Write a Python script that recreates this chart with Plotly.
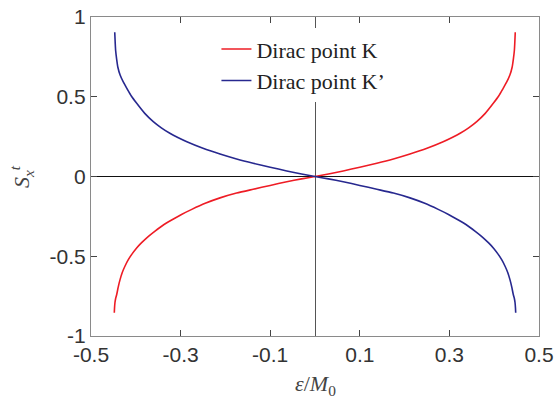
import plotly.graph_objects as go

# Red curve: Dirac point K
k_x = [-0.448, -0.4475, -0.4465, -0.445, -0.4426, -0.439, -0.435, -0.430, -0.424, -0.417,
       -0.409, -0.399, -0.387, -0.373, -0.357, -0.340, -0.320, -0.298, -0.275, -0.245,
       -0.212, -0.175, -0.138, -0.100, -0.063, -0.030, 0.0, 0.030, 0.063, 0.100,
       0.138, 0.175, 0.212, 0.250, 0.286, 0.305, 0.324, 0.343, 0.361, 0.380,
       0.398, 0.410, 0.420, 0.428, 0.435, 0.440, 0.443, 0.445, 0.446, 0.447]
k_y = [-0.854, -0.825, -0.790, -0.765, -0.740, -0.690, -0.645, -0.600, -0.561, -0.523,
       -0.488, -0.451, -0.415, -0.378, -0.342, -0.307, -0.273, -0.238, -0.206, -0.168,
       -0.134, -0.104, -0.080, -0.056, -0.033, -0.015, 0.0, 0.016, 0.035, 0.058,
       0.083, 0.110, 0.141, 0.177, 0.218, 0.243, 0.271, 0.305, 0.344, 0.396,
       0.459, 0.505, 0.553, 0.593, 0.636, 0.685, 0.741, 0.790, 0.840, 0.904]

# Blue curve: Dirac point K'
kp_x = [-0.447, -0.446, -0.445, -0.443, -0.440, -0.435, -0.428, -0.420, -0.410, -0.398,
        -0.380, -0.361, -0.343, -0.324, -0.305, -0.286, -0.250, -0.212, -0.175, -0.138,
        -0.100, -0.063, -0.030, 0.0, 0.030, 0.063, 0.100, 0.138, 0.175, 0.212,
        0.245, 0.275, 0.298, 0.320, 0.340, 0.357, 0.373, 0.387, 0.399, 0.409,
        0.417, 0.424, 0.430, 0.435, 0.439, 0.4426, 0.445, 0.4465, 0.4475, 0.448]
kp_y = [0.904, 0.840, 0.790, 0.741, 0.685, 0.636, 0.593, 0.553, 0.505, 0.459,
        0.396, 0.344, 0.305, 0.271, 0.243, 0.218, 0.177, 0.141, 0.110, 0.083,
        0.058, 0.035, 0.016, 0.0, -0.015, -0.033, -0.056, -0.080, -0.104, -0.134,
        -0.168, -0.206, -0.238, -0.273, -0.307, -0.342, -0.378, -0.415, -0.451, -0.488,
        -0.523, -0.561, -0.600, -0.645, -0.690, -0.740, -0.765, -0.790, -0.825, -0.854]

x_ticks = [-0.5, -0.3, -0.1, 0.1, 0.3, 0.5]
x_ticktext = ["-0.5", "-0.3", "-0.1", "0.1", "0.3", "0.5"]
y_ticks = [-1, -0.5, 0, 0.5, 1]
y_ticktext = ["-1", "-0.5", "0", "0.5", "1"]

fig = go.Figure()
fig.add_trace(go.Scatter(x=k_x, y=k_y, mode="lines", name="Dirac point K",
                         line=dict(color="#ee1c25", width=1.6, shape="spline", smoothing=0.6)))
fig.add_trace(go.Scatter(x=kp_x, y=kp_y, mode="lines", name="Dirac point K’",
                         line=dict(color="#27288f", width=1.6, shape="spline", smoothing=0.6)))

axis_common = dict(showline=True, linecolor="#8a8a8a", linewidth=1.3, mirror="ticks",
                   ticks="inside", ticklen=6, tickcolor="#444", tickwidth=1,
                   showgrid=False, automargin=False,
                   tickfont=dict(family="Liberation Sans, Arial", size=21, color="#333"))

fig.update_xaxes(range=[-0.5, 0.5], tickvals=x_ticks, ticktext=x_ticktext,
                 zeroline=True, zerolinecolor="#555", zerolinewidth=1.2, **axis_common)
fig.update_yaxes(range=[-1, 1], tickvals=y_ticks, ticktext=y_ticktext,
                 zeroline=True, zerolinecolor="#111", zerolinewidth=1.2, **axis_common)

fig.update_layout(
    width=556, height=400,
    margin=dict(l=91, r=17, t=17, b=64),
    plot_bgcolor="white", paper_bgcolor="white",
    legend=dict(x=0.28, y=0.965, xanchor="left", yanchor="top",
                bgcolor="white", borderwidth=0,
                font=dict(family="Liberation Serif, DejaVu Serif", size=22, color="#222"),
                itemwidth=30, tracegroupgap=0),
    annotations=[
        dict(text="<i>ε</i>/<i>M</i><sub>0</sub>", xref="paper", yref="paper",
             x=0.5, y=-0.155, xanchor="center", yanchor="middle", showarrow=False,
             font=dict(family="Liberation Serif, DejaVu Serif", size=22, color="#444")),
        dict(text="<i>S</i><sub><i>x</i></sub><sup><i>t</i></sup>", xref="paper", yref="paper",
             x=-0.155, y=0.5, xanchor="center", yanchor="middle", showarrow=False,
             textangle=-90,
             font=dict(family="Liberation Serif, DejaVu Serif", size=22, color="#444")),
    ],
)

fig.write_html("out.html")
